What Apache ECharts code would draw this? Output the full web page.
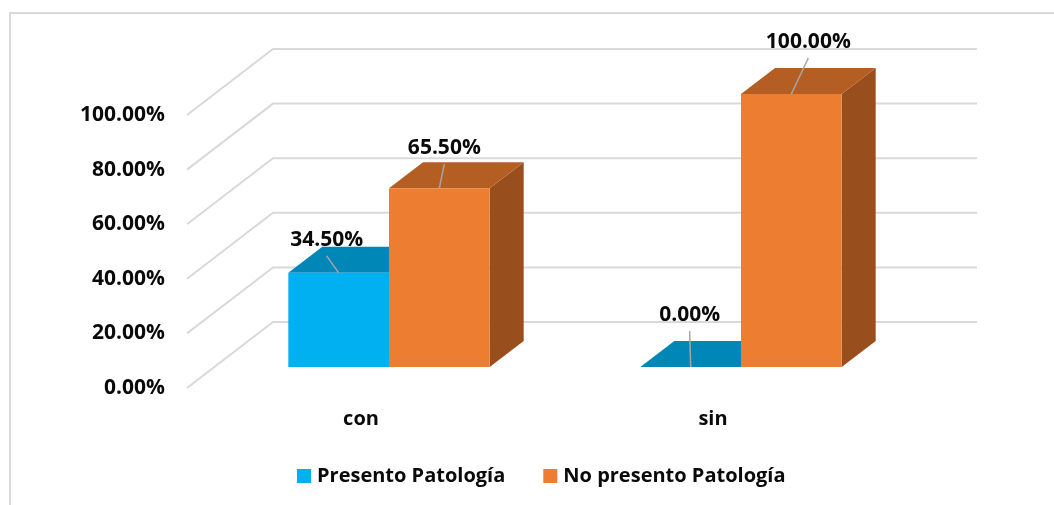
<!DOCTYPE html>
<html>
<head>
<meta charset="utf-8">
<script src="https://cdn.jsdelivr.net/npm/echarts@6/dist/echarts.min.js"></script>
<style>
html,body{margin:0;padding:0;background:#fff}
#chart{width:1054px;height:505px}
</style>
</head>
<body>
<div id="chart"></div>
<script>
// Chart data
const categories = ['con', 'sin'];
const presentoValues = [34.5, 0];
const noPresentoValues = [65.5, 100];
const valueTicks = [0, 20, 40, 60, 80, 100];

// Leader-line start for each data label, relative to the bar's front top edge
const presentoLeaders = [[-12, -17], [-1, -36]];
const noPresentoLeaders = [[5, -24], [17, -36]];

// Oblique projection used for the 3D look
const WALL_DX = 86, WALL_DY = 66;
const BAR_DX = 34, BAR_DY = 26;
const BAR_SHIFT_X = 26, BAR_SHIFT_Y = 21;
const BAR_RATIO = 0.286;
const FONT = '"Open Sans", sans-serif';
const FONT_SIZE = 20;
const NUMBER_SIZE = 21;
const TEXT_COLOR = '#0a0a0a';
const GRID_COLOR = '#d9d9d9';

function poly(points, fill) {
  return { type: 'polygon', shape: { points }, style: { fill, stroke: null } };
}

function wallRenderer(params, api) {
  const cs = params.coordSys;
  const y = api.coord([0, api.value(1)])[1];
  return {
    type: 'polyline',
    silent: true,
    shape: { points: [[cs.x, y], [cs.x + WALL_DX, y - WALL_DY], [cs.x + cs.width + WALL_DX, y - WALL_DY]] },
    style: { stroke: GRID_COLOR, lineWidth: 2, fill: null }
  };
}

function barRenderer(slot, front, top, side, leaders) {
  return function (params, api) {
    const idx = api.value(0), val = api.value(1);
    const w = api.size([1, 0])[0] * BAR_RATIO;
    const baseP = api.coord([idx, 0]);
    const topP = api.coord([idx, val]);
    const x0 = baseP[0] + BAR_SHIFT_X + slot * w;
    const x1 = x0 + w;
    const yB = baseP[1] - BAR_SHIFT_Y;
    const yT = topP[1] - BAR_SHIFT_Y;
    const cx = (x0 + x1) / 2;
    const lead = leaders[params.dataIndex];
    const lx = cx + lead[0], ly = yT + lead[1];
    return {
      type: 'group',
      children: [
        poly([[x1, yB], [x1 + BAR_DX, yB - BAR_DY], [x1 + BAR_DX, yT - BAR_DY], [x1, yT]], side),
        poly([[x0, yT], [x0 + BAR_DX, yT - BAR_DY], [x1 + BAR_DX, yT - BAR_DY], [x1, yT]], top),
        { type: 'rect', shape: { x: x0, y: yT, width: w, height: yB - yT }, style: { fill: front } },
        { type: 'line', shape: { x1: cx, y1: yT, x2: lx, y2: ly }, style: { stroke: '#a6a6a6', lineWidth: 1.5 } },
        {
          type: 'text',
          style: {
            x: lx, y: ly - 16,
            text: val.toFixed(2) + '%',
            fill: TEXT_COLOR,
            font: 'bold ' + NUMBER_SIZE + 'px ' + FONT,
            align: 'center', verticalAlign: 'middle'
          }
        }
      ]
    };
  };
}

function toPairs(values) {
  return values.map((v, i) => [i, v]);
}

const chart = echarts.init(document.getElementById('chart'), null, { renderer: 'canvas' });
chart.setOption({
  animation: false,
  backgroundColor: '#ffffff',
  grid: { left: 187, top: 115, width: 704, height: 273 },
  graphic: [{
    type: 'polyline',
    silent: true,
    shape: { points: [[10, 505], [10, 13], [1054, 13]] },
    style: { stroke: GRID_COLOR, lineWidth: 2, fill: null }
  }],
  legend: {
    left: 292,
    top: 461,
    itemWidth: 14,
    itemHeight: 14,
    itemGap: 38,
    icon: 'rect',
    selectedMode: false,
    data: ['Presento Patología', 'No presento Patología'],
    textStyle: { fontFamily: FONT, fontWeight: 'bold', fontSize: FONT_SIZE, color: TEXT_COLOR, padding: [0, 0, 0, 1] }
  },
  xAxis: {
    type: 'category',
    data: categories,
    axisLine: { show: false },
    axisTick: { show: false },
    splitLine: { show: false },
    axisLabel: { fontFamily: FONT, fontWeight: 'bold', fontSize: FONT_SIZE, color: TEXT_COLOR, margin: 21, padding: [0, 4, 0, 0] }
  },
  yAxis: {
    type: 'value',
    min: 0,
    max: 100,
    interval: 20,
    axisLine: { show: false },
    axisTick: { show: false },
    splitLine: { show: false },
    axisLabel: {
      fontFamily: FONT, fontWeight: 'bold', fontSize: NUMBER_SIZE, color: TEXT_COLOR, margin: 22,
      padding: [8, 0, 0, 0],
      formatter: v => v.toFixed(2) + '%'
    }
  },
  series: [
    {
      type: 'custom',
      name: 'walls',
      silent: true,
      z: 1,
      renderItem: wallRenderer,
      data: valueTicks.map(v => [0, v])
    },
    {
      type: 'custom',
      name: 'Presento Patología',
      z: 2,
      itemStyle: { color: '#00B0F0' },
      renderItem: barRenderer(-1, '#00B0F0', '#0086B7', '#00658B', presentoLeaders),
      data: toPairs(presentoValues)
    },
    {
      type: 'custom',
      name: 'No presento Patología',
      z: 3,
      itemStyle: { color: '#ED7D31' },
      renderItem: barRenderer(0, '#ED7D31', '#B55E24', '#984E1D', noPresentoLeaders),
      data: toPairs(noPresentoValues)
    }
  ]
});
</script>
</body>
</html>
